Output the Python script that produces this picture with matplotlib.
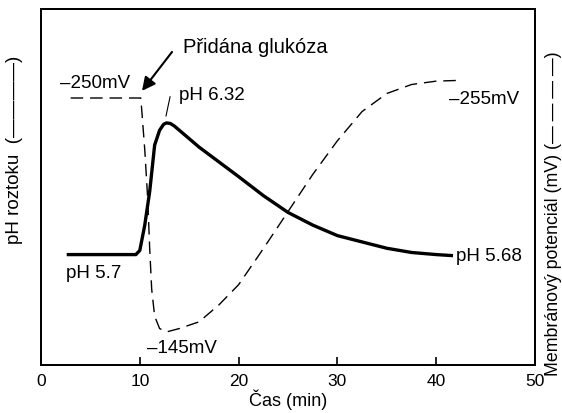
import matplotlib.pyplot as plt

plt.rcParams['font.family'] = ['Liberation Sans', 'DejaVu Sans']

# pH roztoku (plná čára)
cas_ph = [2.6, 9.6, 10.0, 10.5, 11.0, 11.5, 12.0, 12.4, 12.7, 13.1, 13.5, 14.5, 16.0, 18.0, 20.0,
          22.5, 25.0, 27.5, 30.0, 32.5, 35.0, 37.5, 40.0, 41.7]
ph = [5.70, 5.70, 5.72, 5.84, 6.00, 6.22, 6.29, 6.318, 6.325, 6.322, 6.31, 6.27, 6.21, 6.14, 6.07,
      5.98, 5.90, 5.84, 5.79, 5.76, 5.73, 5.71, 5.70, 5.695]

# membránový potenciál (čárkovaná čára)
cas_mv = [3.0, 10.1, 10.5, 10.8, 11.0, 11.2, 11.5, 12.0, 12.7, 14.0, 16.0, 18.0, 20.0,
          22.5, 25.0, 27.5, 30.0, 32.5, 35.0, 37.5, 40.0, 42.1]
mv = [-250, -250, -227, -205, -183, -165, -153, -147.5, -146, -147.5, -150.5, -158, -167,
      -183, -199.5, -216, -231, -244, -252, -256, -257.5, -257.8]

x_ticks = [0, 10, 20, 30, 40, 50]

fig = plt.figure(figsize=(5.62, 4.14), dpi=100)
ax = fig.add_axes([0.073, 0.116, 0.879, 0.86])
ax2 = ax.twinx()

ax.plot(cas_ph, ph, color='black', linewidth=2.4, solid_capstyle='butt')
ax2.plot(cas_mv, mv, color='black', linewidth=1.0, dashes=(9, 5))

ax.set_xlim(0, 50)
ax.set_ylim(5.176, 6.866)
ax2.set_ylim(-131.3, -289.6)

ax.set_xticks(x_ticks)
ax.tick_params(axis='x', direction='in', length=6, width=1.2, labelsize=12.5, pad=6)
ax.set_yticks([])
ax2.set_yticks([])
for a in (ax, ax2):
    for s in a.spines.values():
        s.set_linewidth(1.3)

ax.set_xlabel('Čas (min)', fontsize=13, labelpad=0)
fig.text(15 / 562, 1 - 150 / 414, 'pH roztoku  (————)', fontsize=13.5,
         rotation=90, ha='center', va='center')
fig.text(553 / 562, 1 - 214 / 414, 'Membránový potenciál (mV) (— — — —)', fontsize=12.8,
         rotation=90, ha='center', va='center')

# popisky
ax.text(14.4, 6.69, 'Přidána glukóza', fontsize=14.5, va='center', ha='left')
ax.annotate('', xy=(10.22, 6.477), xytext=(13.26, 6.662),
            arrowprops=dict(arrowstyle='-|>', color='black', lw=1.5,
                            shrinkA=0, shrinkB=0, mutation_scale=20))
ax.text(14.0, 6.46, 'pH 6.32', fontsize=13.5, va='center', ha='left')
ax.plot([13.06, 12.65], [6.449, 6.358], color='black', linewidth=0.8)
ax.text(2.5, 5.615, 'pH 5.7', fontsize=13.5, va='center', ha='left')
ax.text(42.0, 5.695, 'pH 5.68', fontsize=13.5, va='center', ha='left')
ax2.text(1.9, -257, '–250mV', fontsize=13.5, va='center', ha='left')
ax2.text(10.7, -139, '–145mV', fontsize=13.5, va='center', ha='left')
ax2.text(41.3, -250, '–255mV', fontsize=13.5, va='center', ha='left')

fig.savefig('out.png', dpi=100)
